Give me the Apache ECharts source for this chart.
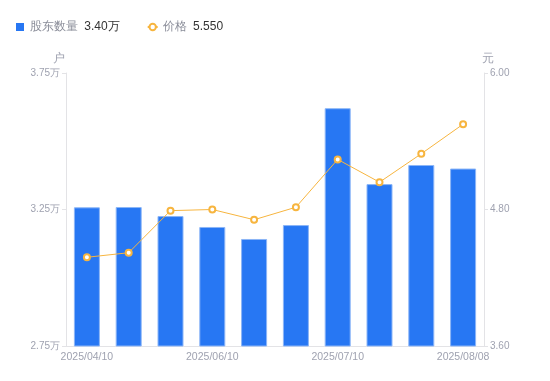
<!DOCTYPE html>
<html><head><meta charset="utf-8">
<script src="https://cdn.jsdelivr.net/npm/echarts@6/dist/echarts.min.js"></script>
<style>html,body{margin:0;padding:0;background:#fff}#c{width:550px;height:381px}</style>
</head><body><div id="c"></div>
<script>
var categories = ['2025/04/10','2025/04/30','2025/05/20','2025/06/10','2025/06/20','2025/06/30','2025/07/10','2025/07/20','2025/07/31','2025/08/08'];
var holders = [3.258, 3.259, 3.226, 3.186, 3.142, 3.193, 3.621, 3.343, 3.413, 3.400];
var prices = [4.38, 4.42, 4.79, 4.80, 4.71, 4.82, 5.24, 5.04, 5.29, 5.55];
var leftTicks = [2.75, 3.25, 3.75];
var rightTicks = [3.60, 4.80, 6.00];

var chart = echarts.init(document.getElementById('c'));
var labelColor = '#9fa2b0';
var lastH = holders[holders.length-1].toFixed(2) + '万';
var lastP = prices[prices.length-1].toFixed(3);
chart.setOption({
  animation: false,
  legend: {
    left: 11, top: 16, itemGap: 27, itemWidth: 10, itemHeight: 8,
    textStyle: {fontSize: 12, color: '#8a8d99', rich: {v: {fontSize: 12, color: '#333', padding: [0,0,0,3]}}},
    formatter: function(n){ return n + ' {v|' + (n === '股东数量' ? lastH : lastP) + '}'; },
    data: [{name: '股东数量', icon: 'path://M0,0h8v8h-8z', itemStyle: {borderWidth: 0}}, {name: '价格'}]
  },
  grid: {left: 66, right: 66, top: 73, bottom: 35},
  xAxis: {
    type: 'category', data: categories,
    axisLine: {lineStyle: {color: '#e3e3e6'}},
    axisTick: {show: false},
    axisLabel: {color: labelColor, fontSize: 10.5, interval: 2, margin: 6}
  },
  yAxis: [{
    type: 'value', min: leftTicks[0], max: leftTicks[2], interval: 0.5,
    name: '户', nameGap: 8, nameTextStyle: {color: labelColor, fontSize: 12, padding: [0, 14, 0, 0]},
    axisLine: {show: true, lineStyle: {color: '#e3e3e6'}},
    axisTick: {show: true, length: 4, lineStyle: {color: '#e3e3e6'}},
    splitLine: {show: false},
    axisLabel: {color: labelColor, fontSize: 10, margin: 6, formatter: function(v){ return v.toFixed(2) + '万'; }}
  }, {
    type: 'value', min: rightTicks[0], max: rightTicks[2], interval: 1.2,
    name: '元', nameGap: 8, nameTextStyle: {color: labelColor, fontSize: 12, padding: [0, 0, 0, 8]},
    axisLine: {show: true, lineStyle: {color: '#e3e3e6'}},
    axisTick: {show: true, length: 4, lineStyle: {color: '#e3e3e6'}},
    splitLine: {show: false},
    axisLabel: {color: labelColor, fontSize: 10, margin: 6, formatter: function(v){ return v.toFixed(2); }}
  }],
  series: [{
    name: '股东数量', type: 'bar', data: holders, barWidth: 26, yAxisIndex: 0,
    itemStyle: {color: '#2777f3', borderColor: '#8cb6f7', borderWidth: 1}
  }, {
    name: '价格', type: 'line', data: prices, yAxisIndex: 1,
    symbol: 'circle', symbolSize: 6,
    lineStyle: {color: '#f7b53f', width: 1},
    itemStyle: {color: '#fff', borderColor: '#f7b53f', borderWidth: 2}
  }]
});
</script></body></html>
